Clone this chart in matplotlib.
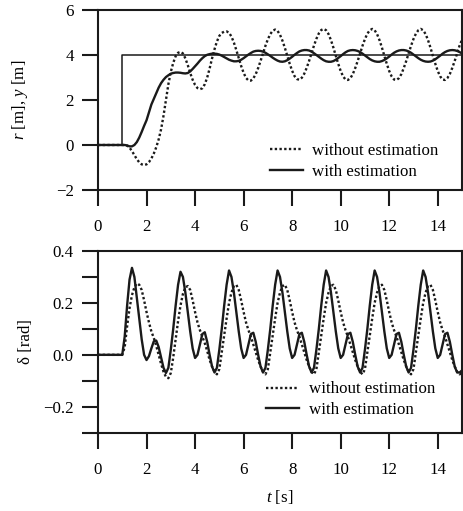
"""
Step response of the lateral position r, y and the steering angle delta,
with and without the estimation.
"""

import numpy as np
import matplotlib
matplotlib.use('Agg')
import matplotlib.pyplot as plt


# Time grid of the sampled curves [s], 0.0 ... 15.0 every 0.1 s.
t = np.round(np.arange(0, 151) * 0.1, 1)

# Reference r [m] (a step at t = 1 s).
r_t = [0.0, 1.0, 1.0, 15.0]
r_val = [0.0, 0.0, 4.0, 4.0]

# Output y [m], one row per second.
y_without = [
    0, 0, 0, 0, 0, 0, 0, 0, 0, 0,
    0, 0, -0.03, -0.12, -0.27, -0.45, -0.63, -0.77, -0.86, -0.89,
    -0.86, -0.76, -0.60, -0.38, -0.10, 0.25, 0.70, 1.30, 2.00, 2.70,
    3.25, 3.65, 3.95, 4.10, 4.14, 4.07, 3.85, 3.55, 3.20, 2.90,
    2.67, 2.53, 2.48, 2.52, 2.70, 3.00, 3.40, 3.85, 4.25, 4.60,
    4.85, 4.98, 5.04, 5.05, 4.99, 4.82, 4.55, 4.22, 3.86, 3.51,
    3.21, 2.98, 2.87, 2.86, 2.96, 3.15, 3.42, 3.74, 4.08, 4.41,
    4.70, 4.93, 5.08, 5.13, 5.07, 4.90, 4.64, 4.32, 3.96, 3.61,
    3.30, 3.06, 2.93, 2.90, 2.99, 3.17, 3.43, 3.74, 4.08, 4.42,
    4.72, 4.96, 5.11, 5.16, 5.10, 4.93, 4.66, 4.33, 3.96, 3.61,
    3.29, 3.05, 2.91, 2.89, 2.97, 3.15, 3.42, 3.73, 4.07, 4.41,
    4.71, 4.95, 5.10, 5.16, 5.10, 4.93, 4.66, 4.33, 3.96, 3.61,
    3.29, 3.05, 2.91, 2.89, 2.97, 3.15, 3.42, 3.73, 4.07, 4.41,
    4.71, 4.95, 5.10, 5.16, 5.10, 4.93, 4.66, 4.33, 3.96, 3.61,
    3.29, 3.05, 2.91, 2.89, 2.98, 3.16, 3.43, 3.74, 4.08, 4.42,
    4.68,
]
y_with = [
    0, 0, 0, 0, 0, 0, 0, 0, 0, 0,
    0, 0, -0.02, -0.06, -0.06, 0.00, 0.13, 0.33, 0.58, 0.85,
    1.10, 1.45, 1.80, 2.05, 2.30, 2.55, 2.75, 2.90, 3.02, 3.10,
    3.17, 3.20, 3.22, 3.22, 3.21, 3.19, 3.18, 3.20, 3.27, 3.38,
    3.50, 3.62, 3.75, 3.86, 3.95, 4.01, 4.04, 4.06, 4.06, 4.05,
    4.02, 3.97, 3.91, 3.85, 3.79, 3.75, 3.72, 3.72, 3.74, 3.79,
    3.86, 3.94, 4.02, 4.09, 4.15, 4.18, 4.19, 4.18, 4.15, 4.10,
    4.03, 3.96, 3.88, 3.81, 3.75, 3.71, 3.70, 3.72, 3.77, 3.84,
    3.92, 4.01, 4.09, 4.16, 4.20, 4.22, 4.22, 4.20, 4.15, 4.08,
    4.00, 3.92, 3.84, 3.77, 3.72, 3.70, 3.70, 3.73, 3.79, 3.87,
    3.95, 4.04, 4.12, 4.18, 4.21, 4.22, 4.21, 4.18, 4.13, 4.06,
    3.98, 3.90, 3.82, 3.76, 3.72, 3.70, 3.70, 3.73, 3.78, 3.85,
    3.93, 4.02, 4.10, 4.16, 4.20, 4.22, 4.22, 4.20, 4.16, 4.10,
    4.02, 3.94, 3.86, 3.79, 3.74, 3.71, 3.70, 3.71, 3.75, 3.81,
    3.89, 3.97, 4.06, 4.13, 4.18, 4.21, 4.22, 4.21, 4.18, 4.13,
    4.07,
]

# Steering angle delta [rad], one row per second.
d_without = [
    0, 0, 0, 0, 0, 0, 0, 0, 0, 0,
    0, 0.03, 0.11, 0.18, 0.23, 0.26, 0.275, 0.27, 0.25, 0.21,
    0.165, 0.125, 0.09, 0.065, 0.035, 0.0, -0.035, -0.065, -0.085, -0.09,
    -0.07, -0.01, 0.06, 0.13, 0.19, 0.235, 0.26, 0.265, 0.25, 0.21,
    0.165, 0.125, 0.095, 0.07, 0.045, 0.015, -0.02, -0.045, -0.065, -0.075,
    -0.055, 0.01, 0.075, 0.14, 0.20, 0.24, 0.265, 0.27, 0.25, 0.21,
    0.165, 0.125, 0.095, 0.07, 0.04, 0.01, -0.02, -0.045, -0.065, -0.075,
    -0.055, 0.01, 0.075, 0.14, 0.20, 0.24, 0.265, 0.27, 0.25, 0.21,
    0.165, 0.125, 0.095, 0.07, 0.04, 0.01, -0.02, -0.045, -0.065, -0.075,
    -0.055, 0.01, 0.075, 0.14, 0.20, 0.24, 0.265, 0.27, 0.25, 0.21,
    0.165, 0.125, 0.095, 0.07, 0.04, 0.01, -0.02, -0.045, -0.065, -0.075,
    -0.055, 0.01, 0.075, 0.14, 0.20, 0.24, 0.265, 0.27, 0.25, 0.21,
    0.165, 0.125, 0.095, 0.07, 0.04, 0.01, -0.02, -0.045, -0.065, -0.075,
    -0.055, 0.01, 0.075, 0.14, 0.20, 0.24, 0.265, 0.27, 0.25, 0.21,
    0.165, 0.125, 0.095, 0.07, 0.04, 0.01, -0.02, -0.045, -0.065, -0.075,
    -0.07,
]
d_with = [
    0, 0, 0, 0, 0, 0, 0, 0, 0, 0,
    0, 0.07, 0.19, 0.29, 0.335, 0.30, 0.22, 0.14, 0.06, 0.0,
    -0.02, -0.005, 0.025, 0.052, 0.055, 0.03, -0.01, -0.05, -0.07, -0.05,
    0.02, 0.10, 0.19, 0.27, 0.32, 0.30, 0.24, 0.165, 0.09, 0.025,
    -0.012, 0.0, 0.04, 0.08, 0.087, 0.05, 0.0, -0.045, -0.068, -0.05,
    0.02, 0.10, 0.19, 0.27, 0.325, 0.30, 0.24, 0.165, 0.09, 0.025,
    -0.012, 0.0, 0.04, 0.08, 0.085, 0.05, 0.0, -0.045, -0.068, -0.05,
    0.02, 0.10, 0.19, 0.27, 0.325, 0.30, 0.24, 0.165, 0.09, 0.025,
    -0.012, 0.0, 0.04, 0.08, 0.085, 0.05, 0.0, -0.045, -0.068, -0.05,
    0.02, 0.10, 0.19, 0.27, 0.325, 0.30, 0.24, 0.165, 0.09, 0.025,
    -0.012, 0.0, 0.04, 0.08, 0.085, 0.05, 0.0, -0.045, -0.068, -0.05,
    0.02, 0.10, 0.19, 0.27, 0.325, 0.30, 0.24, 0.165, 0.09, 0.025,
    -0.012, 0.0, 0.04, 0.08, 0.085, 0.05, 0.0, -0.045, -0.068, -0.05,
    0.02, 0.10, 0.19, 0.27, 0.325, 0.30, 0.24, 0.165, 0.09, 0.025,
    -0.012, 0.0, 0.04, 0.08, 0.085, 0.05, 0.0, -0.045, -0.068, -0.068,
    -0.06,
]

labels = ['without estimation', 'with estimation']
x_ticks = [0, 2, 4, 6, 8, 10, 12, 14]
y_ticks_top = [-2, 0, 2, 4, 6]
y_ticks_bottom = [-0.2, 0.0, 0.2, 0.4]
y_ticklabels_bottom = ['\u22120.2', '0.0', '0.2', '0.4']
y_minor_bottom = [-0.3, -0.1, 0.1, 0.3]


plt.rcParams['font.family'] = ['Liberation Serif', 'DejaVu Serif']
plt.rcParams['font.size'] = 12.2
plt.rcParams['mathtext.fontset'] = 'custom'
plt.rcParams['mathtext.rm'] = 'Liberation Serif'
plt.rcParams['mathtext.it'] = 'Liberation Serif:italic'

dotted = dict(color='#1a1a1a', linewidth=1.7, linestyle=(0, (1, 1)))
solid = dict(color='#1a1a1a', linewidth=1.7)
legend_style = dict(frameon=False, loc='upper left', borderaxespad=0,
                    borderpad=0, handlelength=1.95, handletextpad=0.55,
                    labelspacing=0.28)


def style(ax):
    for spine in ax.spines.values():
        spine.set_linewidth(1.5)
        spine.set_color('#1a1a1a')
    ax.tick_params(which='both', direction='out', length=11.5, width=1.5,
                   color='#1a1a1a', pad=6, top=False, right=False)
    ax.tick_params(axis='x', pad=9.5)
    ax.set_xlim(0, 15)
    ax.set_xticks(x_ticks)


fig = plt.figure(figsize=(4.64, 5.11), dpi=100)

# Position r, y.
ax1 = fig.add_axes([0.2112, 0.6282, 0.7845, 0.3522])
style(ax1)
ax1.plot(r_t, r_val, color='#1a1a1a', linewidth=1.1)
l1, = ax1.plot(t, y_without, **dotted)
l2, = ax1.plot(t, y_with, **solid)
ax1.set_ylim(-2, 6)
ax1.set_yticks(y_ticks_top)
ax1.set_ylabel('$r$ [m], $y$ [m]')
ax1.yaxis.set_label_coords(-0.187, 0.5)
ax1.legend([l1, l2], labels, bbox_to_anchor=(0.472, 0.262), **legend_style)

# Steering angle delta.
ax2 = fig.add_axes([0.2112, 0.1532, 0.7845, 0.3556])
style(ax2)
l3, = ax2.plot(t, d_without, **dotted)
l4, = ax2.plot(t, d_with, **solid)
ax2.set_ylim(-0.3, 0.4)
ax2.set_yticks(y_ticks_bottom, y_ticklabels_bottom)
ax2.set_yticks(y_minor_bottom, minor=True)
ax2.set_ylabel('\u03b4 [rad]')
ax2.yaxis.set_label_coords(-0.177, 0.5)
ax2.set_xlabel('$t$ [s]', labelpad=7)
ax2.legend([l3, l4], labels, bbox_to_anchor=(0.462, 0.282), **legend_style)

fig.savefig('out.png', dpi=100)
